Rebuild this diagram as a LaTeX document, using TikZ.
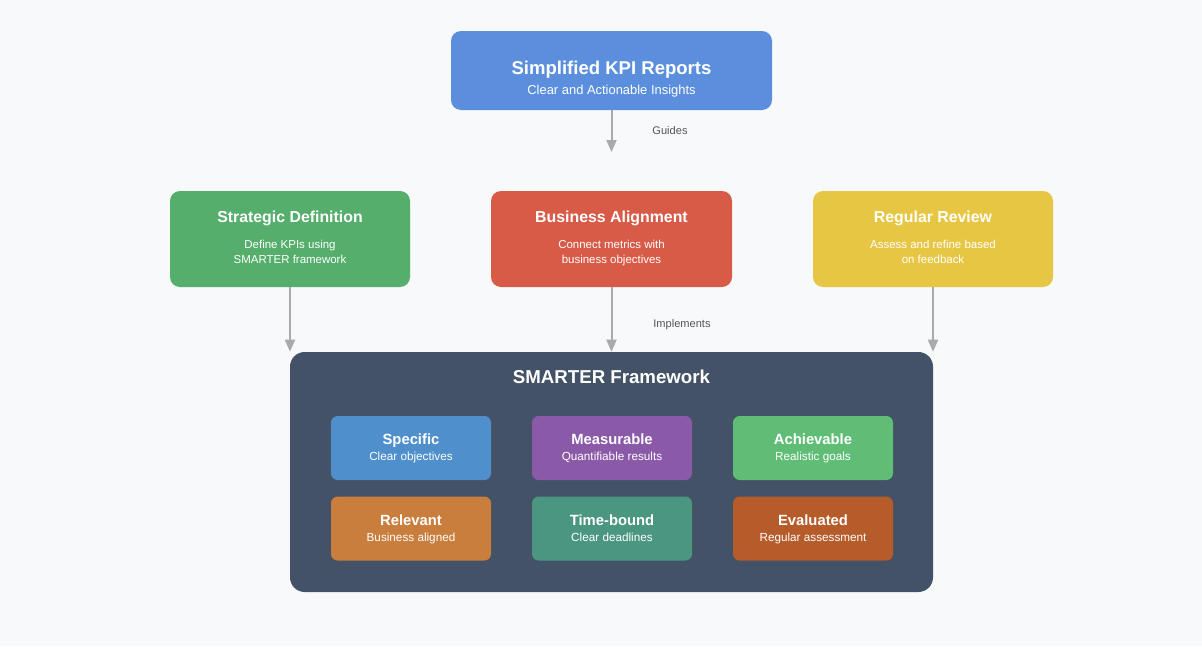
\documentclass[tikz,border=0pt]{standalone}
\usepackage{fontspec}
\setmainfont{Liberation Sans}
\usetikzlibrary{arrows.meta,positioning}
\definecolor{bg}{HTML}{F7F9FB}
\definecolor{ctop}{HTML}{5B8FDD}
\definecolor{cgreen}{HTML}{55AE6B}
\definecolor{cred}{HTML}{D85B48}
\definecolor{cyellow}{HTML}{E7C644}
\definecolor{cdark}{HTML}{435266}
\definecolor{cspec}{HTML}{4F8FCC}
\definecolor{cmeas}{HTML}{8A5AA8}
\definecolor{cach}{HTML}{5FBD76}
\definecolor{crel}{HTML}{C97E3E}
\definecolor{ctime}{HTML}{4A9680}
\definecolor{ceval}{HTML}{B65B2A}
\definecolor{carrow}{HTML}{AAAAAA}
\definecolor{clabel}{HTML}{555555}
\begin{document}
\begin{tikzpicture}[x=0.75pt,y=-0.75pt,
  box/.style={rounded corners=7.5pt, inner sep=0pt, draw=none},
  title/.style={text=white, font=\bfseries\fontsize{#1}{#1}\selectfont, inner sep=0pt, anchor=base},
  sub/.style={text=white, font=\fontsize{#1}{#1}\selectfont, inner sep=0pt, anchor=base},
  lbl/.style={text=clabel, font=\fontsize{8.3pt}{9pt}\selectfont, inner sep=0pt, anchor=base},
  arr/.style={draw=carrow, line width=1.5pt, -{Triangle[length=9pt,width=7.5pt]}}]
\fill[bg] (0,0) rectangle (1202,646);
\useasboundingbox (0,0) rectangle (1202,646);
% top box
\node[box, fill=ctop, minimum width=240.75pt, minimum height=59.25pt] (top) at (611.5,70.5) {};
\node[title=13.9pt] (topt) at (611.5,74) {Simplified KPI Reports};
\node[sub=9.7pt] (tops) at (611.5,94.5) {Clear and Actionable Insights};
% middle boxes
\node[box, fill=cgreen, minimum width=180pt, minimum height=72pt] (sd) at (290,239) {};
\node[title=11.9pt] (sdt) at (290,222.3) {Strategic Definition};
\node[sub=8.6pt] (sds1) at (290,248.3) {Define KPIs using};
\node[sub=8.6pt] (sds2) at (290,263.8) {SMARTER framework};
\node[box, fill=cred, minimum width=180.75pt, minimum height=72pt] (ba) at (611.5,239) {};
\node[title=11.9pt] (bat) at (611.5,222.3) {Business Alignment};
\node[sub=8.6pt] (bas1) at (611.5,248.3) {Connect metrics with};
\node[sub=8.6pt] (bas2) at (611.5,263.8) {business objectives};
\node[box, fill=cyellow, minimum width=180pt, minimum height=72pt] (rr) at (933,239) {};
\node[title=11.9pt] (rrt) at (933,222.3) {Regular Review};
\node[sub=8.6pt] (rrs1) at (933,248.3) {Assess and refine based};
\node[sub=8.6pt] (rrs2) at (933,263.8) {on feedback};
% framework
\node[box, fill=cdark, rounded corners=11pt, minimum width=482.25pt, minimum height=180pt] (fw) at (611.5,472) {};
\node[title=14pt] (fwt) at (611.5,383.5) {SMARTER Framework};
% inner boxes
\foreach \nm/\cx/\cy/\col/\ti/\su in {
  sp/411/448/cspec/Specific/Clear objectives,
  me/612/448/cmeas/Measurable/Quantifiable results,
  ac/813/448/cach/Achievable/Realistic goals,
  re/411/528.5/crel/Relevant/Business aligned,
  tb/612/528.5/ctime/Time-bound/Clear deadlines,
  ev/813/528.5/ceval/Evaluated/Regular assessment}{
  \node[box, fill=\col, rounded corners=5pt, minimum width=120pt, minimum height=48pt] (\nm) at (\cx,\cy) {};
  \node[title=11.1pt] (\nm t) at (\cx,\cy-3.5) {\ti};
  \node[sub=8.8pt] (\nm s) at (\cx,\cy+12.5) {\su};
}
% arrows
\draw[arr] (top.south) -- (top.south |- 0,152) coordinate (g1);
\node[lbl] (guides) at (670,134.5) {Guides};
\draw[arr] (sd.south) -- (sd.south |- fw.north);
\draw[arr] (ba.south) -- (ba.south |- fw.north);
\draw[arr] (rr.south) -- (rr.south |- fw.north);
\node[lbl] (impl) at (682,327.5) {Implements};
\end{tikzpicture}
\end{document}
